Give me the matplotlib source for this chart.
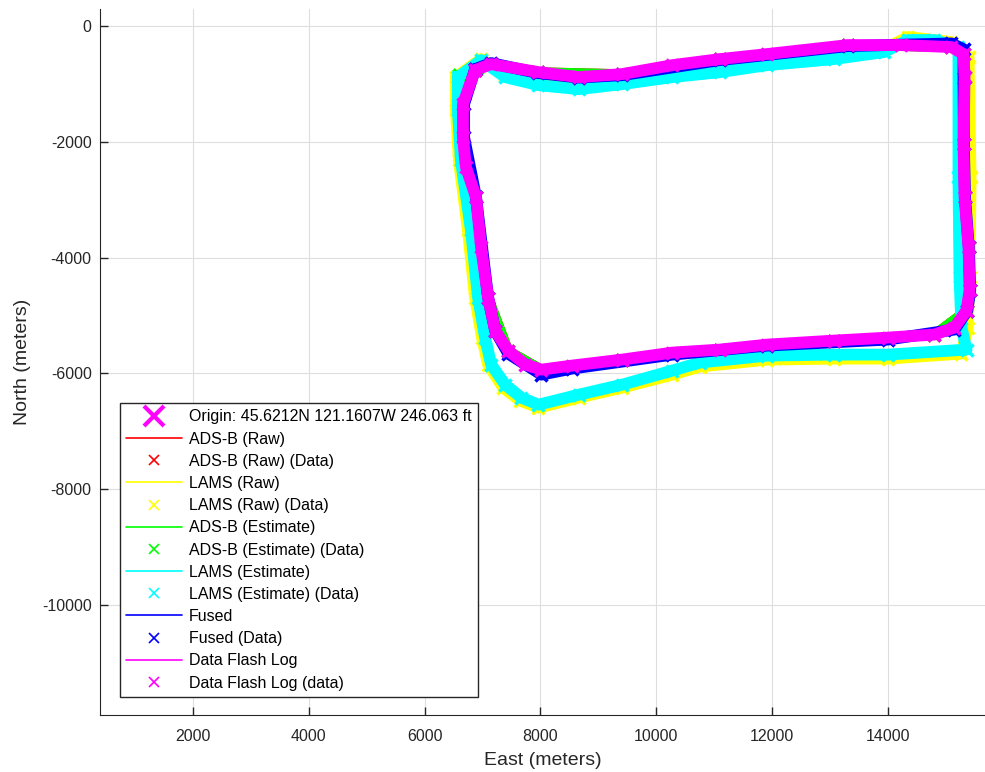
"""Flight track: ADS-B / LAMS / fused vs data flash log (East-North)"""
import matplotlib.pyplot as plt

plt.rcParams["font.family"] = ["Liberation Sans", "DejaVu Sans"]
plt.rcParams["axes.unicode_minus"] = False

# data (meters from origin)
origin_label = "Origin: 45.6212N 121.1607W 246.063 ft"

dfl_east = [6870, 7148, 7965, 8661, 9409, 10278, 11096, 11913, 13304, 14226, 15095, 15304,
            15322, 15304, 15322, 15391, 15408, 15356, 15148, 14800, 14000, 13061, 11913, 11096,
            10278, 9409, 8539, 8017, 7739, 7443, 7217, 7096, 6974, 6887, 6713, 6661, 6661, 6870]
dfl_north = [-761, -657, -796, -882, -830, -675, -571, -484, -329, -329, -363, -484,
             -882, -2042, -2958, -3823, -4567, -4913, -5207, -5329, -5381, -5433, -5502, -5588,
             -5640, -5761, -5865, -5934, -5848, -5606, -5260, -4689, -3823, -2958, -2439, -1920, -1349, -761]

lams_est_east = [6574, 6974, 7391, 7965, 8661, 9409, 10278, 11096, 11913, 13061, 13930, 14348,
                 14800, 15217, 15217, 15235, 15269, 15356, 14000, 13061, 11913, 10748, 10278, 9409,
                 8661, 7965, 7670, 7391, 7148, 7043, 6922, 6800, 6626, 6574, 6574]
lams_est_north = [-882, -588, -882, -1021, -1090, -1003, -882, -796, -675, -571, -450, -242,
                  -242, -363, -2612, -4342, -5207, -5588, -5675, -5675, -5692, -5813, -5951, -6194,
                  -6367, -6540, -6419, -6194, -5848, -5381, -4689, -3529, -2318, -1453, -882]

lams_raw_east = [6539, 6539, 6591, 6748, 6870, 6991, 7096, 7356, 7652, 7965, 8661, 9409,
                 10278, 10748, 11913, 13061, 14000, 15269, 15374, 15408, 15426, 15391, 15095, 14348,
                 13930, 13061, 11913, 11096, 10278, 9409, 8661, 7965, 7391, 6974, 6539]
lams_raw_north = [-882, -1453, -2318, -3529, -4689, -5381, -5848, -6245, -6470, -6591, -6418, -6245,
                  -6020, -5882, -5761, -5744, -5744, -5657, -5207, -4342, -2612, -536, -277, -190,
                  -398, -536, -640, -761, -848, -969, -1055, -986, -848, -571, -882]

fused_east = [6870, 7148, 7965, 8661, 9409, 11096, 13304, 15095, 15304, 15304, 15310, 15330,
              15395, 15420, 15370, 15148, 14000, 11913, 10278, 8539, 8017, 7443, 7217, 7096,
              6887, 6680, 6680, 6870]
fused_north = [-744, -640, -813, -890, -848, -588, -346, -300, -400, -900, -2042, -2958,
               -3823, -4567, -4913, -5242, -5415, -5519, -5675, -5917, -6021, -5657, -5260, -4689,
               -2958, -1920, -1349, -744]

adsb_est_east = [6600, 6900, 7148, 7965, 9409, 11096, 13304, 15095, 15304, 15322, 15304, 15322,
                 15391, 15408, 15356, 14800, 13061, 11096, 9409, 8017, 7443, 7096, 6887, 6661,
                 6661, 6600]
adsb_est_north = [-850, -720, -657, -796, -830, -571, -329, -363, -484, -882, -2042, -2958,
                  -3823, -4567, -4913, -5329, -5433, -5588, -5761, -5934, -5606, -4689, -2958, -1920,
                  -1349, -850]

adsb_raw_east = [6870, 7148, 7965, 9409, 11096, 13304, 15095, 15304, 15322, 15304, 15322, 15391,
                 15408, 15356, 14800, 13061, 11096, 9409, 8017, 7443, 7096, 6887, 6661, 6661, 6870]
adsb_raw_north = [-761, -657, -796, -830, -571, -329, -363, -484, -882, -2042, -2958, -3823,
                  -4567, -4913, -5329, -5433, -5588, -5761, -5934, -5606, -4689, -2958, -1920, -1349, -761]

series = [
    ("ADS-B (Raw)", adsb_raw_east, adsb_raw_north, "red"),
    ("LAMS (Raw)", lams_raw_east, lams_raw_north, "yellow"),
    ("ADS-B (Estimate)", adsb_est_east, adsb_est_north, "lime"),
    ("LAMS (Estimate)", lams_est_east, lams_est_north, "cyan"),
    ("Fused", fused_east, fused_north, "blue"),
    ("Data Flash Log", dfl_east, dfl_north, "magenta"),
]

# plotting
fig = plt.figure(figsize=(9.85, 7.72), dpi=100)
ax = fig.add_axes([0.1015, 0.0738, 0.8985, 0.9145])

ax.plot(0, 0, "x", color="magenta", ms=15, mew=3, label=origin_label)
for name, e, n, c in series:
    lw = 7 if name in ("ADS-B (Raw)", "ADS-B (Estimate)") else 8.5
    ax.plot(e, n, "-", color=c, lw=lw, solid_capstyle="round", solid_joinstyle="round", label=name)
    data_name = name + (" (data)" if name == "Data Flash Log" else " (Data)")
    ax.plot(e, n, "x", color=c, ms=9, mew=2.5, label=data_name)

ax.set_xlim(394, 15675)
ax.set_ylim(-11900, 294)
ax.set_xticks(range(2000, 14001, 2000))
ax.set_yticks(range(-10000, 1, 2000))
ax.set_xlabel("East (meters)", fontsize=14, color="#262626", labelpad=6)
ax.set_ylabel("North (meters)", fontsize=14, color="#262626", labelpad=8)
ax.tick_params(direction="in", length=6, width=1, labelsize=11.5, colors="#262626")
ax.tick_params(axis="x", pad=10)
ax.tick_params(axis="y", pad=6)
ax.grid(True, color="#dedede", lw=0.8)
ax.set_axisbelow(True)
for s in ("top", "right"):
    ax.spines[s].set_visible(False)
for s in ("left", "bottom"):
    ax.spines[s].set_color("#262626")

leg = ax.legend(loc="lower left", bbox_to_anchor=(0.0226, 0.0255), borderaxespad=0,
                fontsize=11.5, fancybox=False, framealpha=1, edgecolor="#262626",
                labelspacing=0.45, handlelength=3.5, handletextpad=0.4, borderpad=0.4)
leg.get_frame().set_linewidth(1)
for i, h in enumerate(leg.legend_handles):
    if i == 0:
        continue
    if i % 2 == 1:
        h.set_linewidth(1.2)
    else:
        h.set_markersize(7)
        h.set_markeredgewidth(1.2)

fig.savefig("out.png", dpi=100)
